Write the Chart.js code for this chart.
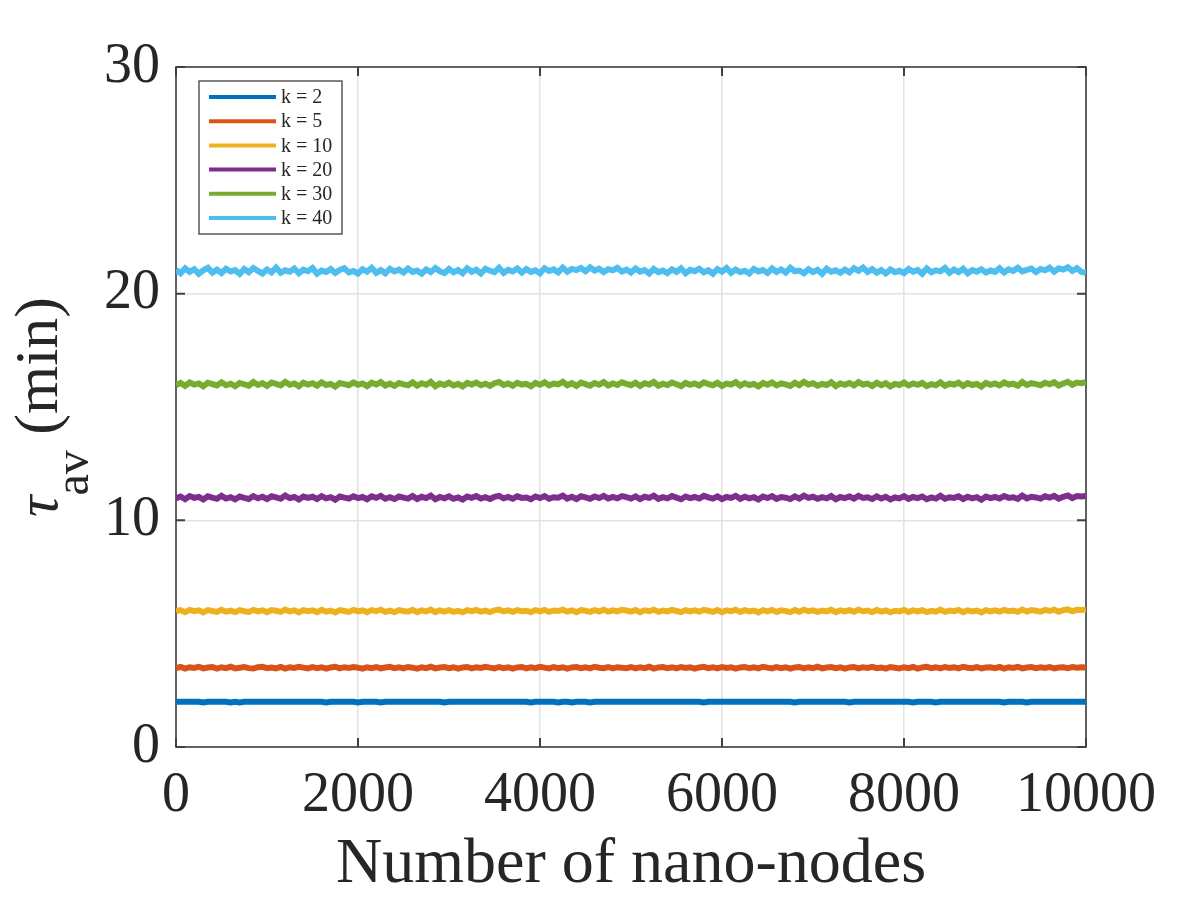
<!DOCTYPE html>
<html><head><meta charset="utf-8">
<script src="https://cdn.jsdelivr.net/npm/chart.js@4.4.1/dist/chart.umd.min.js"></script>
<style>html,body{margin:0;padding:0;background:#fff;} canvas{display:block;}</style>
</head><body>
<canvas id="c" width="1200" height="900"></canvas>
<script>
const nodes = [0,50,100,150,200,250,300,350,400,450,
500,550,600,650,700,750,800,850,900,950,
1000,1050,1100,1150,1200,1250,1300,1350,1400,1450,
1500,1550,1600,1650,1700,1750,1800,1850,1900,1950,
2000,2050,2100,2150,2200,2250,2300,2350,2400,2450,
2500,2550,2600,2650,2700,2750,2800,2850,2900,2950,
3000,3050,3100,3150,3200,3250,3300,3350,3400,3450,
3500,3550,3600,3650,3700,3750,3800,3850,3900,3950,
4000,4050,4100,4150,4200,4250,4300,4350,4400,4450,
4500,4550,4600,4650,4700,4750,4800,4850,4900,4950,
5000,5050,5100,5150,5200,5250,5300,5350,5400,5450,
5500,5550,5600,5650,5700,5750,5800,5850,5900,5950,
6000,6050,6100,6150,6200,6250,6300,6350,6400,6450,
6500,6550,6600,6650,6700,6750,6800,6850,6900,6950,
7000,7050,7100,7150,7200,7250,7300,7350,7400,7450,
7500,7550,7600,7650,7700,7750,7800,7850,7900,7950,
8000,8050,8100,8150,8200,8250,8300,8350,8400,8450,
8500,8550,8600,8650,8700,8750,8800,8850,8900,8950,
9000,9050,9100,9150,9200,9250,9300,9350,9400,9450,
9500,9550,9600,9650,9700,9750,9800,9850,9900,9950,
10000];

const seriesLabels = ['k = 2','k = 5','k = 10','k = 20','k = 30','k = 40'];
const seriesColors = ['#0072BD','#D95319','#EDB120','#7E2F8E','#77AC30','#4DBEEE'];

const k2 = [2.00,2.00,2.00,2.00,2.00,2.00,1.97,2.00,2.00,2.00,
2.00,2.00,1.97,2.00,1.97,2.00,2.00,2.00,2.00,2.00,
2.00,2.00,2.00,2.00,2.00,2.00,2.00,2.00,2.00,2.00,
2.00,2.00,2.00,1.97,2.00,2.00,2.00,2.00,2.00,2.00,
1.97,2.00,2.00,2.00,2.00,1.97,2.00,2.00,2.00,2.00,
2.00,2.00,2.00,2.00,2.00,2.00,2.00,2.00,2.00,1.97,
2.00,2.00,2.00,2.00,2.00,2.00,2.00,2.00,2.00,2.00,
2.00,2.00,2.00,2.00,2.00,2.00,2.00,2.00,1.97,2.00,
2.00,2.00,2.00,2.00,1.97,2.00,2.00,1.97,2.00,2.00,
2.00,1.97,2.00,2.00,2.00,2.00,2.00,2.00,2.00,2.00,
2.00,2.00,2.00,2.00,2.00,2.00,2.00,2.00,2.00,2.00,
2.00,2.00,2.00,2.00,2.00,2.00,1.97,2.00,2.00,2.00,
2.00,2.00,2.00,2.00,2.00,2.00,2.00,2.00,2.00,2.00,
2.00,2.00,2.00,2.00,2.00,2.00,1.97,2.00,2.00,2.00,
2.00,2.00,2.00,2.00,2.00,2.00,2.00,2.00,1.97,2.00,
2.00,2.00,2.00,2.00,2.00,2.00,2.00,2.00,2.00,2.00,
2.00,2.00,1.97,2.00,2.00,2.00,2.00,1.97,2.00,2.00,
2.00,2.00,2.00,2.00,2.00,2.00,2.00,2.00,2.00,2.00,
2.00,2.00,1.97,2.00,2.00,2.00,2.00,1.97,2.00,2.00,
2.00,2.00,2.00,2.00,2.00,2.00,2.00,2.00,2.00,2.00,
2.00];

const k5 = [3.48,3.53,3.46,3.52,3.49,3.54,3.47,3.51,3.53,3.46,
3.52,3.48,3.54,3.47,3.50,3.53,3.48,3.46,3.52,3.54,
3.48,3.51,3.47,3.53,3.46,3.52,3.49,3.54,3.50,3.47,
3.53,3.48,3.52,3.46,3.51,3.54,3.47,3.52,3.49,3.53,
3.50,3.46,3.52,3.48,3.53,3.47,3.51,3.54,3.48,3.52,
3.47,3.53,3.50,3.46,3.52,3.48,3.54,3.47,3.51,3.53,
3.48,3.52,3.46,3.51,3.53,3.47,3.52,3.49,3.54,3.50,
3.47,3.53,3.48,3.52,3.46,3.51,3.53,3.47,3.52,3.48,
3.54,3.50,3.47,3.53,3.48,3.52,3.46,3.51,3.53,3.48,
3.52,3.47,3.54,3.50,3.48,3.53,3.47,3.52,3.50,3.48,
3.53,3.47,3.52,3.48,3.54,3.46,3.51,3.53,3.48,3.52,
3.47,3.53,3.49,3.52,3.46,3.51,3.54,3.48,3.52,3.47,
3.53,3.49,3.52,3.46,3.51,3.53,3.48,3.52,3.47,3.54,
3.50,3.47,3.53,3.48,3.52,3.46,3.51,3.53,3.47,3.52,
3.48,3.54,3.47,3.51,3.53,3.48,3.52,3.46,3.51,3.53,
3.47,3.52,3.49,3.54,3.48,3.51,3.46,3.53,3.50,3.47,
3.52,3.48,3.53,3.46,3.51,3.54,3.48,3.52,3.47,3.53,
3.49,3.52,3.47,3.54,3.50,3.48,3.53,3.47,3.51,3.52,
3.48,3.53,3.46,3.52,3.49,3.54,3.47,3.51,3.53,3.48,
3.52,3.49,3.53,3.47,3.51,3.52,3.48,3.53,3.50,3.52,
3.51];

const k10 = [5.98,6.04,5.95,6.05,5.99,6.03,5.94,6.04,6.00,5.96,
6.05,5.97,6.02,5.95,6.04,5.99,5.96,6.05,5.98,6.03,
5.95,6.04,6.01,5.96,6.06,5.98,6.03,5.94,6.04,5.99,
6.03,5.95,6.05,5.97,6.02,5.94,6.04,6.00,5.96,6.05,
5.98,6.03,5.95,6.04,5.99,6.06,5.96,6.02,5.95,6.04,
6.00,5.97,6.05,5.95,6.03,5.98,6.06,5.95,6.03,5.97,
6.04,5.96,6.01,5.94,6.04,5.99,6.05,5.97,6.02,5.95,
6.03,6.06,5.98,6.03,5.96,6.04,5.99,6.01,5.95,6.04,
5.98,6.05,5.96,6.02,6.00,6.06,5.97,6.03,5.95,6.04,
6.01,5.96,6.04,5.98,6.06,5.97,6.03,5.98,6.05,6.02,
5.97,6.04,5.95,6.03,5.99,6.06,5.96,6.02,5.98,6.05,
6.00,5.95,6.04,5.98,6.03,5.97,6.05,6.01,5.96,6.04,
5.95,6.03,5.99,6.06,5.96,6.04,5.98,6.02,5.94,6.04,
5.98,6.05,5.96,6.03,6.00,5.95,6.04,5.97,6.06,5.99,
6.03,5.96,6.02,5.98,6.05,5.95,6.03,5.98,6.04,5.97,
6.06,5.99,6.02,5.95,6.04,5.97,6.03,5.94,6.01,5.98,
6.05,5.96,6.03,5.98,6.04,5.95,6.01,5.97,6.06,5.96,
6.02,5.99,6.05,5.95,6.03,5.98,6.02,5.94,6.04,5.98,
6.03,5.97,6.05,5.99,6.02,5.96,6.06,5.98,6.04,6.01,
5.97,6.05,6.00,6.06,5.97,6.04,6.07,5.99,6.05,6.04,
6.07];

const k20 = [10.97,11.05,10.93,11.07,10.99,11.03,10.92,11.06,11.00,10.95,
11.08,10.96,11.02,10.93,11.05,10.99,10.94,11.07,10.97,11.04,
10.94,11.06,11.01,10.95,11.09,10.98,11.03,10.92,11.05,10.99,
11.04,10.94,11.07,10.97,11.02,10.91,11.05,11.00,10.96,11.06,
10.98,11.03,10.93,11.06,10.99,11.08,10.95,11.02,10.94,11.05,
11.00,10.96,11.07,10.94,11.04,10.98,11.09,10.93,11.03,10.97,
11.06,10.95,11.01,10.92,11.05,10.99,11.07,10.96,11.02,10.94,
11.04,11.08,10.97,11.03,10.95,11.06,10.99,11.01,10.93,11.05,
10.98,11.07,10.95,11.02,11.00,11.09,10.96,11.04,10.94,11.06,
11.01,10.95,11.05,10.98,11.08,10.96,11.03,10.97,11.07,11.02,
10.96,11.06,10.94,11.04,10.99,11.09,10.95,11.02,10.97,11.07,
11.00,10.93,11.05,10.98,11.03,10.96,11.08,11.01,10.96,11.06,
10.94,11.03,10.99,11.08,10.95,11.04,10.97,11.02,10.92,11.05,
10.98,11.07,10.95,11.03,11.00,10.94,11.06,10.96,11.09,10.99,
11.04,10.95,11.02,10.97,11.07,10.93,11.03,10.98,11.05,10.96,
11.08,10.99,11.02,10.94,11.06,10.96,11.04,10.92,11.01,10.97,
11.07,10.95,11.03,10.98,11.05,10.93,11.01,10.96,11.08,10.95,
11.02,10.99,11.06,10.94,11.04,10.97,11.02,10.91,11.05,10.98,
11.03,10.96,11.07,10.99,11.02,10.95,11.09,10.97,11.04,11.01,
10.96,11.06,11.00,11.08,10.96,11.04,11.10,10.98,11.07,11.05,
11.08];

const k30 = [15.97,16.06,15.93,16.08,15.99,16.04,15.91,16.07,16.01,15.95,
16.09,15.96,16.03,15.92,16.06,16.00,15.94,16.10,15.97,16.05,
15.93,16.08,16.02,15.95,16.11,15.98,16.04,15.91,16.07,15.99,
16.05,15.94,16.09,15.97,16.02,15.90,16.06,16.01,15.96,16.08,
15.98,16.04,15.92,16.07,15.99,16.10,15.95,16.03,15.93,16.06,
16.00,15.96,16.09,15.94,16.05,15.98,16.11,15.92,16.04,15.97,
16.07,15.95,16.02,15.91,16.06,15.99,16.08,15.96,16.03,15.93,
16.05,16.10,15.97,16.04,15.94,16.07,15.99,16.02,15.92,16.06,
15.98,16.09,15.95,16.03,16.00,16.11,15.96,16.05,15.93,16.08,
16.01,15.94,16.06,15.98,16.10,15.95,16.04,15.97,16.09,16.02,
15.96,16.07,15.93,16.05,15.99,16.11,15.94,16.03,15.97,16.08,
16.00,15.92,16.06,15.98,16.04,15.95,16.09,16.01,15.96,16.07,
15.93,16.03,15.99,16.10,15.94,16.05,15.97,16.02,15.91,16.06,
15.98,16.08,15.95,16.04,16.00,15.93,16.07,15.96,16.11,15.99,
16.05,15.94,16.02,15.97,16.09,15.92,16.04,15.98,16.06,15.95,
16.10,15.99,16.03,15.93,16.07,15.96,16.05,15.91,16.02,15.97,
16.08,15.95,16.04,15.98,16.06,15.92,16.01,15.96,16.09,15.94,
16.03,15.99,16.07,15.93,16.05,15.97,16.02,15.90,16.06,15.98,
16.04,15.95,16.08,15.99,16.03,15.94,16.10,15.97,16.05,16.01,
15.96,16.07,16.00,16.09,15.95,16.04,16.11,15.98,16.08,16.05,
16.10];

const k40 = [21.05,20.90,21.12,20.96,21.08,20.88,21.03,21.14,20.93,21.06,
20.91,21.10,20.98,21.04,20.87,21.09,20.95,21.13,21.00,20.89,
21.07,20.94,21.15,20.92,21.03,20.97,21.11,20.90,21.06,20.99,
21.13,20.88,21.02,20.96,21.09,20.91,21.05,21.12,20.94,21.00,
20.89,21.08,20.97,21.14,20.92,21.04,20.90,21.10,20.98,21.06,
20.93,21.11,20.96,21.02,20.88,21.07,20.95,21.13,20.99,20.91,
21.09,20.94,21.04,20.90,21.12,20.97,21.06,20.89,21.10,21.01,
20.95,21.14,20.92,21.05,20.98,21.11,20.93,21.08,20.96,21.03,
20.90,21.12,21.00,21.07,20.94,21.15,20.97,21.09,21.04,21.13,
20.99,21.16,21.02,21.10,20.95,21.08,21.03,21.14,20.98,21.06,
20.93,21.11,20.97,21.04,20.89,21.09,20.95,21.02,20.91,21.07,
20.96,21.12,20.90,21.05,20.99,21.10,20.94,21.03,20.88,21.08,
20.97,21.13,20.92,21.06,20.95,21.01,20.89,21.09,20.98,21.04,
20.91,21.11,20.96,21.07,20.93,21.14,20.99,21.02,20.90,21.08,
20.95,21.05,20.88,21.10,20.97,21.03,20.92,21.06,20.94,21.12,
21.00,21.15,20.96,21.08,20.93,21.04,20.89,21.07,20.95,21.01,
20.91,21.09,20.97,21.05,20.88,21.11,20.94,21.03,20.99,21.13,
20.92,21.06,20.95,21.10,20.90,21.04,20.97,21.08,20.93,21.02,
20.96,21.12,20.94,21.07,21.00,21.14,20.98,21.05,21.11,20.95,
21.09,21.03,21.15,20.97,21.12,21.06,21.16,21.01,21.13,20.96,
20.92];

const xTickLabels = ['0','2000','4000','6000','8000','10000'];
const yTickLabels = ['0','10','20','30'];

const FONT = "'Liberation Serif','Times New Roman',serif";
const TXT = '#262626';
const AX = '#404040';

const seriesValues = [k2,k5,k10,k20,k30,k40];
const datasets = seriesValues.map((vals, i) => ({
  label: seriesLabels[i],
  data: nodes.map((x, j) => ({x: x, y: vals[j]})),
  borderColor: seriesColors[i],
  backgroundColor: seriesColors[i],
  borderWidth: 6,
  pointRadius: 0,
  tension: 0,
  fill: false
}));

const boxPlugin = {
  id: 'matlabBox',
  beforeDatasetsDraw(chart) {
    const {ctx, chartArea: a, scales: {x, y}} = chart;
    ctx.save();
    ctx.strokeStyle = AX;
    ctx.lineWidth = 1.6;
    ctx.strokeRect(a.left, a.top, a.right - a.left, a.bottom - a.top);
    ctx.lineWidth = 2;
    ctx.beginPath();
    x.ticks.forEach(t => {
      const px = x.getPixelForValue(t.value);
      ctx.moveTo(px, a.bottom); ctx.lineTo(px, a.bottom - 9);
      ctx.moveTo(px, a.top); ctx.lineTo(px, a.top + 9);
    });
    y.ticks.forEach(t => {
      const py = y.getPixelForValue(t.value);
      ctx.moveTo(a.left, py); ctx.lineTo(a.left + 9, py);
      ctx.moveTo(a.right, py); ctx.lineTo(a.right - 9, py);
    });
    ctx.stroke();
    ctx.restore();
  }
};

const legendPlugin = {
  id: 'innerLegend',
  afterDatasetsDraw(chart) {
    const {ctx, chartArea: a} = chart;
    const bx = a.left + 23, by = a.top + 14, bw = 143, bh = 153;
    ctx.save();
    ctx.fillStyle = '#ffffff';
    ctx.fillRect(bx, by, bw, bh);
    ctx.strokeStyle = AX;
    ctx.lineWidth = 1.3;
    ctx.strokeRect(bx, by, bw, bh);
    ctx.font = '20px ' + FONT;
    ctx.textBaseline = 'middle';
    ctx.textAlign = 'left';
    chart.data.datasets.forEach((ds, i) => {
      const ry = a.top + 30 + i * 24.2;
      ctx.strokeStyle = ds.borderColor;
      ctx.lineWidth = 4;
      ctx.beginPath();
      ctx.moveTo(a.left + 33, ry);
      ctx.lineTo(a.left + 100, ry);
      ctx.stroke();
      ctx.fillStyle = TXT;
      ctx.fillText(ds.label, a.left + 105, ry + 1);
    });
    ctx.restore();
  }
};

const yTitlePlugin = {
  id: 'yTitle',
  afterDraw(chart) {
    const {ctx, chartArea: a} = chart;
    const tauFont = 'italic 60px ' + FONT;
    const mainFont = '62px ' + FONT;
    const subFont = '48px ' + FONT;
    ctx.save();
    ctx.fillStyle = TXT;
    ctx.textBaseline = 'alphabetic';
    ctx.textAlign = 'left';
    ctx.font = tauFont;
    const w1 = ctx.measureText('\u03C4').width;
    ctx.font = mainFont;
    const w3 = ctx.measureText(' (min)').width;
    ctx.font = subFont;
    const w2 = ctx.measureText('av').width;
    const total = w1 + w2 + w3;
    const cy = (a.top + a.bottom) / 2;
    ctx.translate(57, cy + total / 2);
    ctx.rotate(-Math.PI / 2);
    ctx.font = tauFont;
    ctx.fillText('\u03C4', 0, 0);
    ctx.font = subFont;
    ctx.fillText('av', w1, 31);
    ctx.font = mainFont;
    ctx.fillText(' (min)', w1 + w2, 0);
    ctx.restore();
  }
};

new Chart(document.getElementById('c'), {
  type: 'line',
  data: { datasets: datasets },
  options: {
    responsive: false,
    animation: false,
    devicePixelRatio: 1,
    layout: { padding: { top: 67, right: 114, left: 0, bottom: 0 } },
    plugins: { legend: { display: false }, tooltip: { enabled: false } },
    scales: {
      x: {
        type: 'linear', min: 0, max: 10000,
        ticks: { stepSize: 2000, autoSkip: false, maxRotation: 0, padding: 16,
          font: { family: FONT, size: 56 }, color: TXT,
          callback: (v, i) => xTickLabels[i] },
        grid: { color: '#e2e2e2', lineWidth: 1.5, drawTicks: false },
        border: { display: false },
        title: { display: true, text: 'Number of nano-nodes', color: TXT,
          font: { family: FONT, size: 64, lineHeight: 1 }, padding: { top: 0, bottom: 3 } },
        afterFit: (s) => { s.height = 153; }
      },
      y: {
        min: 0, max: 30,
        ticks: { stepSize: 10, autoSkip: false, padding: 16,
          font: { family: FONT, size: 56 }, color: TXT,
          callback: (v, i) => yTickLabels[i] },
        grid: { color: '#e2e2e2', lineWidth: 1.5, drawTicks: false },
        border: { display: false },
        afterFit: (s) => { s.width = 176; }
      }
    }
  },
  plugins: [boxPlugin, legendPlugin, yTitlePlugin]
});
</script>
</body></html>
